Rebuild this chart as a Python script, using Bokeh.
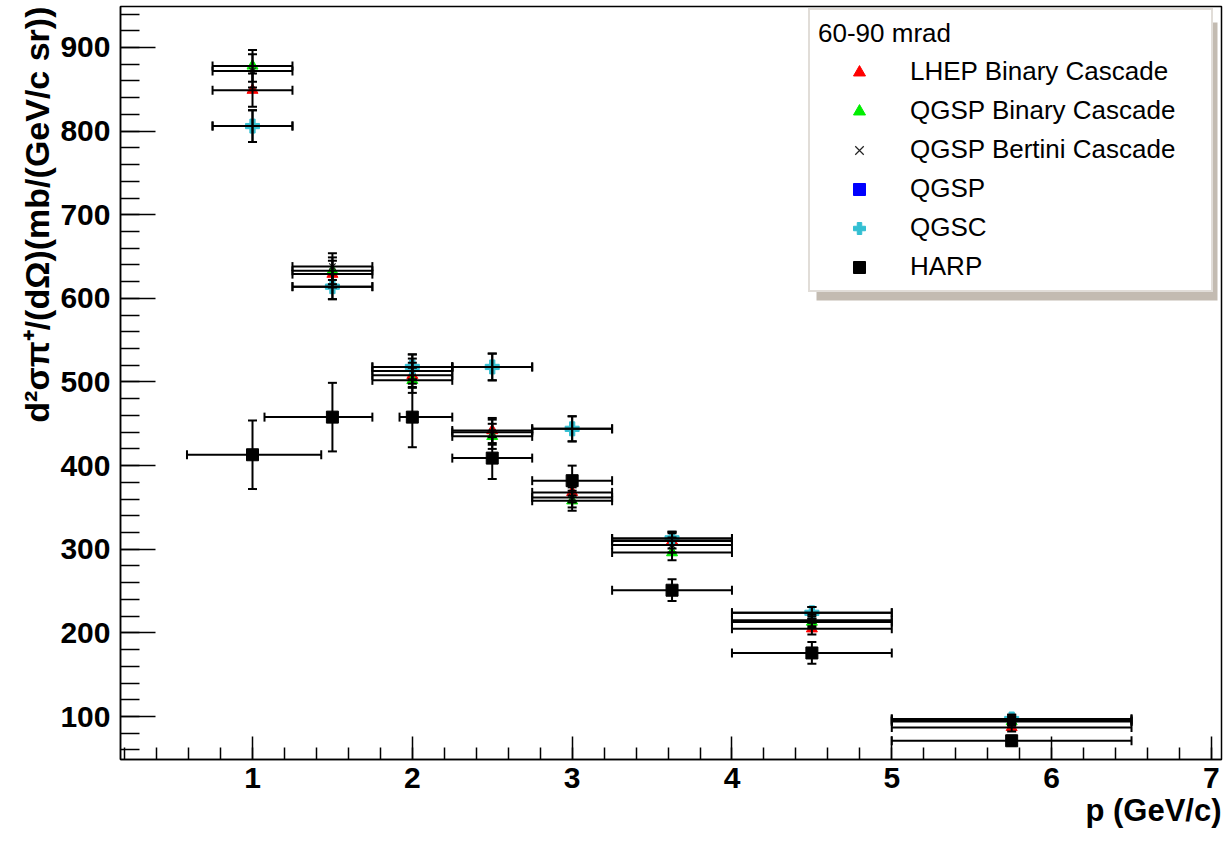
import numpy as np
from bokeh.plotting import figure
from bokeh.models import (Range1d, SingleIntervalTicker, ColumnDataSource, Whisker, TeeHead,
                          Legend, LegendItem, BoxAnnotation, Title)
from bokeh.embed import file_html
from bokeh.resources import INLINE

# ---------------- data ----------------
p_center = [1.0, 1.5, 2.0, 2.5, 3.0, 3.625, 4.5, 5.75]
bin_lo = [0.75, 1.25, 1.75, 2.25, 2.75, 3.25, 4.0, 5.0]
bin_hi = [1.25, 1.75, 2.25, 2.75, 3.25, 4.0, 5.0, 6.5]

lhep_val = [849, 629, 508, 442, 368, 310, 205, 87]
lhep_err = [20, 16, 15, 15, 12, 9, 7, 5]

qgsp_bic_val = [878, 633, 502, 435, 358, 296, 213, 94]
qgsp_bic_err = [19, 16, 15, 15, 12, 9, 7, 5]

qgsp_bert_val = [872, 638, 513, 440, 362, 305, 215, 95]
qgsp_bert_err = [20, 16, 15, 15, 12, 9, 7, 5]

qgsp_val = [806, 614, 518, 518, 444, 313, 224, 97]
qgsp_err = [19, 15, 15, 16, 15, 8, 7, 5]

qgsc_val = [806, 614, 518, 518, 444, 313, 224, 97]
qgsc_err = [19, 15, 15, 16, 15, 8, 7, 5]

harp_p = [1.0, 1.5, 2.0, 2.5, 3.0, 3.625, 4.5, 5.75]
harp_lo = [0.59, 1.075, 1.92, 2.25, 2.75, 3.25, 4.0, 5.0]
harp_hi = [1.43, 1.75, 2.25, 2.75, 3.25, 4.0, 5.0, 6.5]
harp_val = [413, 458, 458, 409, 382, 251, 176, 71]
harp_err = [41, 41, 36, 25, 18, 13, 13, 6]

legend_title = "60-90 mrad"
x_title = "p (GeV/c)"
y_title = "d\u00b2\u03c3\u03c0\u207a/(d\u03a9)(mb/(GeV/c sr))"

FONT = "Liberation Sans"

p = figure(width=1225, height=841, output_backend="svg", toolbar_location=None,
           x_range=Range1d(0.174, 7.063), y_range=Range1d(48.6, 949.0),
           min_border_left=120, min_border_right=4, min_border_top=6, min_border_bottom=82)
p.background_fill_color = "white"
p.border_fill_color = "white"
p.outline_line_color = "black"
p.outline_line_width = 1.5
p.xgrid.visible = False
p.ygrid.visible = False

p.xaxis.ticker = SingleIntervalTicker(interval=1, num_minor_ticks=5)
p.yaxis.ticker = SingleIntervalTicker(interval=100, num_minor_ticks=5)
for ax, maj, mino in ((p.xaxis, 23, 12), (p.yaxis, 35, 19)):
    ax.major_tick_in = maj
    ax.major_tick_out = 0
    ax.minor_tick_in = mino
    ax.minor_tick_out = 0
    ax.axis_line_color = "black"
    ax.axis_line_width = 1.5
    ax.major_tick_line_width = 1.5
    ax.minor_tick_line_width = 1.5
    ax.major_label_text_font = FONT
    ax.major_label_text_font_style = "bold"
    ax.major_label_text_font_size = "30px"
    ax.major_label_text_color = "black"
p.xaxis.major_label_standoff = 8
p.yaxis.major_label_standoff = 10

series = [
    ("LHEP Binary Cascade", p_center, bin_lo, bin_hi, lhep_val, lhep_err, "triangle", "#ff0000", "#ff0000", 11),
    ("QGSP Binary Cascade", p_center, bin_lo, bin_hi, qgsp_bic_val, qgsp_bic_err, "triangle", "#00ee00", "#00ee00", 11),
    ("QGSP Bertini Cascade", p_center, bin_lo, bin_hi, qgsp_bert_val, qgsp_bert_err, "x", None, "#222222", 9),
    ("QGSP", p_center, bin_lo, bin_hi, qgsp_val, qgsp_err, "square", "#0000ff", "#0000ff", 4),
    ("QGSC", p_center, bin_lo, bin_hi, qgsc_val, qgsc_err, "plus", "#33bfd2", "#33bfd2", 14),
    ("HARP", harp_p, harp_lo, harp_hi, harp_val, harp_err, "square", "#000000", "#000000", 12),
]

items = []
for name, xs, xl, xh, ys, es, marker, fill, line, size in series:
    src = ColumnDataSource(dict(
        x=xs, y=ys, xlo=xl, xhi=xh,
        ylo=[v - e for v, e in zip(ys, es)], yhi=[v + e for v, e in zip(ys, es)]))
    wx = Whisker(source=src, base="y", lower="xlo", upper="xhi", dimension="width",
                 line_color="black", line_width=2, level="glyph",
                 lower_head=TeeHead(size=9, line_width=2, line_color="black"),
                 upper_head=TeeHead(size=9, line_width=2, line_color="black"))
    wy = Whisker(source=src, base="x", lower="ylo", upper="yhi", dimension="height",
                 line_color="black", line_width=2, level="glyph",
                 lower_head=TeeHead(size=9, line_width=2, line_color="black"),
                 upper_head=TeeHead(size=9, line_width=2, line_color="black"))
    p.add_layout(wx)
    p.add_layout(wy)
    if fill is None:
        r = p.scatter("x", "y", source=src, marker=marker, size=size, line_color=line, line_width=1.2)
    else:
        r = p.scatter("x", "y", source=src, marker=marker, size=size, fill_color=fill, line_color=line)
    items.append(LegendItem(label=name, renderers=[r]))

# legend shadow + legend
shadow = BoxAnnotation(left=696, right=1097, top=737, bottom=459,
                       left_units="screen", right_units="screen", top_units="screen", bottom_units="screen",
                       fill_color="#c3bbb1", fill_alpha=1.0, line_color=None, level="annotation")
p.add_layout(shadow)
legend = Legend(items=items, location=(688, 467), title=legend_title,
                title_text_font=FONT, title_text_font_size="26px", title_text_font_style="normal",
                title_text_color="black", title_standoff=7,
                label_text_font=FONT, label_text_font_size="26px", label_text_color="black",
                label_height=30, label_width=293, label_standoff=10,
                glyph_height=30, glyph_width=82, spacing=8, padding=8, margin=0,
                border_line_color="#c4bcb2", border_line_width=2,
                background_fill_color="white", background_fill_alpha=1.0)
p.add_layout(legend)

# axis titles (placed in the side panels, aligned to the axis ends as in the reference)
p.add_layout(Title(text=x_title, align="right", vertical_align="bottom", offset=0, standoff=0,
                   text_font=FONT, text_font_style="bold", text_font_size="31px",
                   text_color="black"), "below")
p.add_layout(Title(text=y_title, align="right", vertical_align="bottom", offset=0, standoff=4,
                   text_font=FONT, text_font_style="bold", text_font_size="34px",
                   text_color="black"), "left")

open("out.html", "w").write(file_html(p, INLINE))
